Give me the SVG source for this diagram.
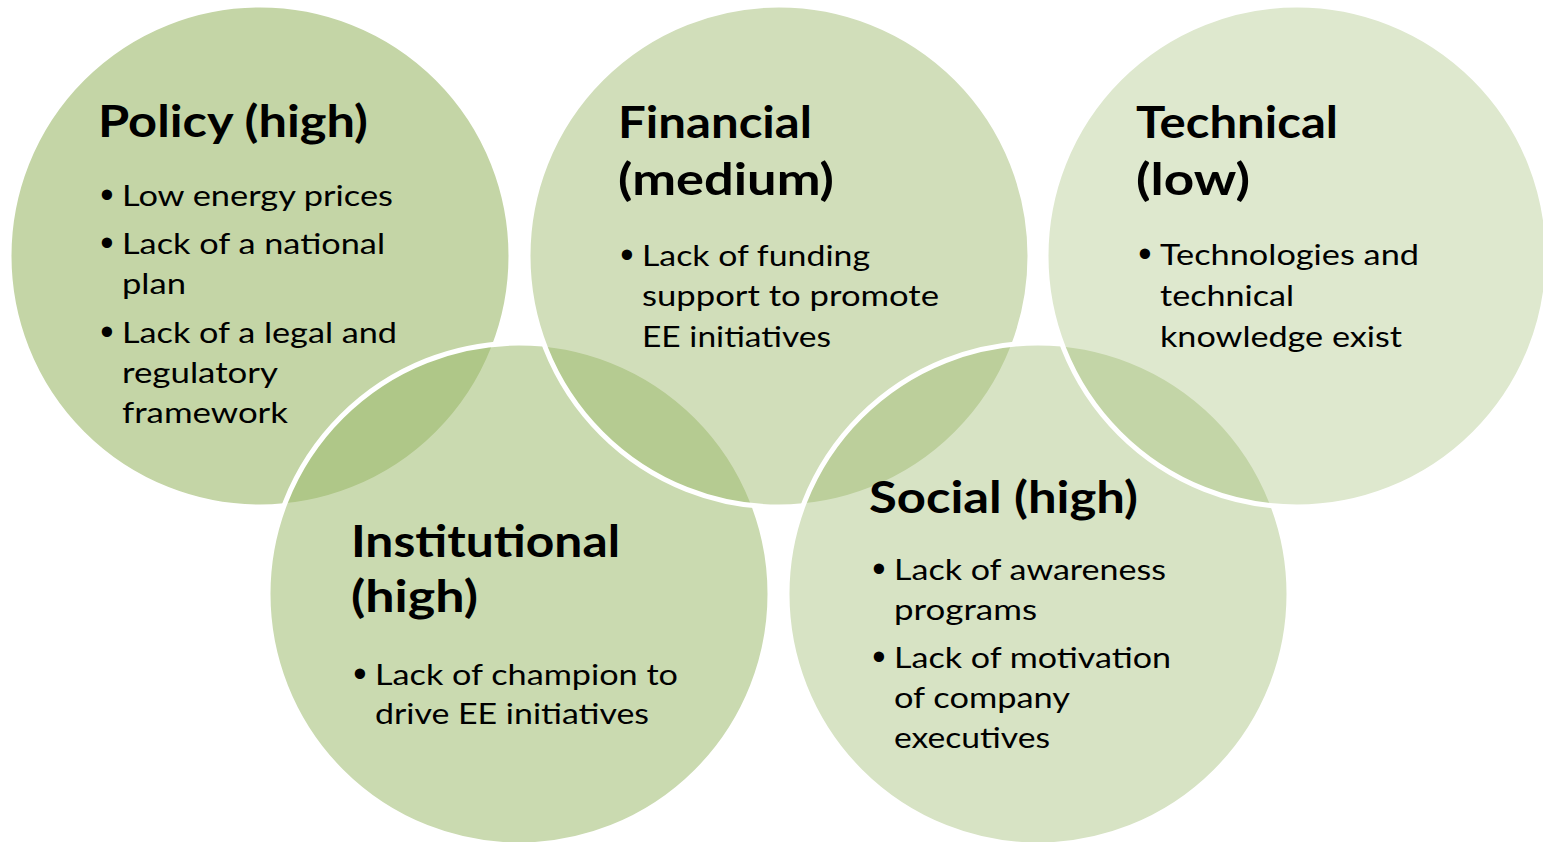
<svg xmlns="http://www.w3.org/2000/svg" width="1543" height="842" viewBox="0 0 1543 842">
<style>
.c{fill:#9fbb6f;stroke:#ffffff;stroke-width:5}
.t{font-family:Lato,"Liberation Sans",sans-serif;font-weight:700;font-size:44px;fill:#000}
.b{font-family:Lato,"Liberation Sans",sans-serif;font-size:29px;fill:#000}
.d{font-family:"Liberation Sans",sans-serif;font-size:38px;fill:#000;text-anchor:middle}
</style>
<rect width="1543" height="842" fill="#ffffff"/>
<g id="policy">
<circle class="c" cx="260" cy="256" r="251" fill-opacity="0.62"/>
<text class="t" x="98" y="137" textLength="270" lengthAdjust="spacingAndGlyphs">Policy (high)</text>
<text class="d" x="107" y="208">•</text>
<text class="b" x="122" y="206" textLength="271" lengthAdjust="spacingAndGlyphs">Low energy prices</text>
<text class="d" x="107" y="256">•</text>
<text class="b" x="122" y="254" textLength="263" lengthAdjust="spacingAndGlyphs">Lack of a national</text>
<text class="b" x="122" y="294" textLength="64" lengthAdjust="spacingAndGlyphs">plan</text>
<text class="d" x="107" y="345">•</text>
<text class="b" x="122" y="343" textLength="275" lengthAdjust="spacingAndGlyphs">Lack of a legal and</text>
<text class="b" x="122" y="383" textLength="156" lengthAdjust="spacingAndGlyphs">regulatory</text>
<text class="b" x="122" y="423" textLength="166" lengthAdjust="spacingAndGlyphs">framework</text>
</g>
<g id="institutional">
<circle class="c" cx="519" cy="594" r="251" fill-opacity="0.55"/>
<text class="t" x="351" y="557" textLength="269" lengthAdjust="spacingAndGlyphs">Institutional</text>
<text class="t" x="351" y="612" textLength="127" lengthAdjust="spacingAndGlyphs">(high)</text>
<text class="d" x="360" y="687">•</text>
<text class="b" x="375" y="685" textLength="303" lengthAdjust="spacingAndGlyphs">Lack of champion to</text>
<text class="b" x="375" y="724" textLength="274" lengthAdjust="spacingAndGlyphs">drive EE initiatives</text>
</g>
<g id="financial">
<circle class="c" cx="779" cy="256" r="251" fill-opacity="0.48"/>
<text class="t" x="618" y="138" textLength="194" lengthAdjust="spacingAndGlyphs">Financial</text>
<text class="t" x="618" y="195" textLength="216" lengthAdjust="spacingAndGlyphs">(medium)</text>
<text class="d" x="627" y="268">•</text>
<text class="b" x="642" y="266" textLength="228" lengthAdjust="spacingAndGlyphs">Lack of funding</text>
<text class="b" x="642" y="306" textLength="297" lengthAdjust="spacingAndGlyphs">support to promote</text>
<text class="b" x="642" y="347" textLength="189" lengthAdjust="spacingAndGlyphs">EE initiatives</text>
</g>
<g id="social">
<circle class="c" cx="1038" cy="594" r="251" fill-opacity="0.41"/>
<text class="t" x="869" y="513" textLength="269" lengthAdjust="spacingAndGlyphs">Social (high)</text>
<text class="d" x="879" y="582">•</text>
<text class="b" x="894" y="580" textLength="272" lengthAdjust="spacingAndGlyphs">Lack of awareness</text>
<text class="b" x="894" y="620" textLength="143" lengthAdjust="spacingAndGlyphs">programs</text>
<text class="d" x="879" y="670">•</text>
<text class="b" x="894" y="668" textLength="277" lengthAdjust="spacingAndGlyphs">Lack of motivation</text>
<text class="b" x="894" y="708" textLength="176" lengthAdjust="spacingAndGlyphs">of company</text>
<text class="b" x="894" y="748" textLength="156" lengthAdjust="spacingAndGlyphs">executives</text>
</g>
<g id="technical">
<circle class="c" cx="1297" cy="256" r="251" fill-opacity="0.34"/>
<text class="t" x="1136" y="138" textLength="202" lengthAdjust="spacingAndGlyphs">Technical</text>
<text class="t" x="1136" y="195" textLength="114" lengthAdjust="spacingAndGlyphs">(low)</text>
<text class="d" x="1145" y="267">•</text>
<text class="b" x="1160" y="265" textLength="259" lengthAdjust="spacingAndGlyphs">Technologies and</text>
<text class="b" x="1160" y="306" textLength="134" lengthAdjust="spacingAndGlyphs">technical</text>
<text class="b" x="1160" y="347" textLength="242" lengthAdjust="spacingAndGlyphs">knowledge exist</text>
</g>
</svg>
